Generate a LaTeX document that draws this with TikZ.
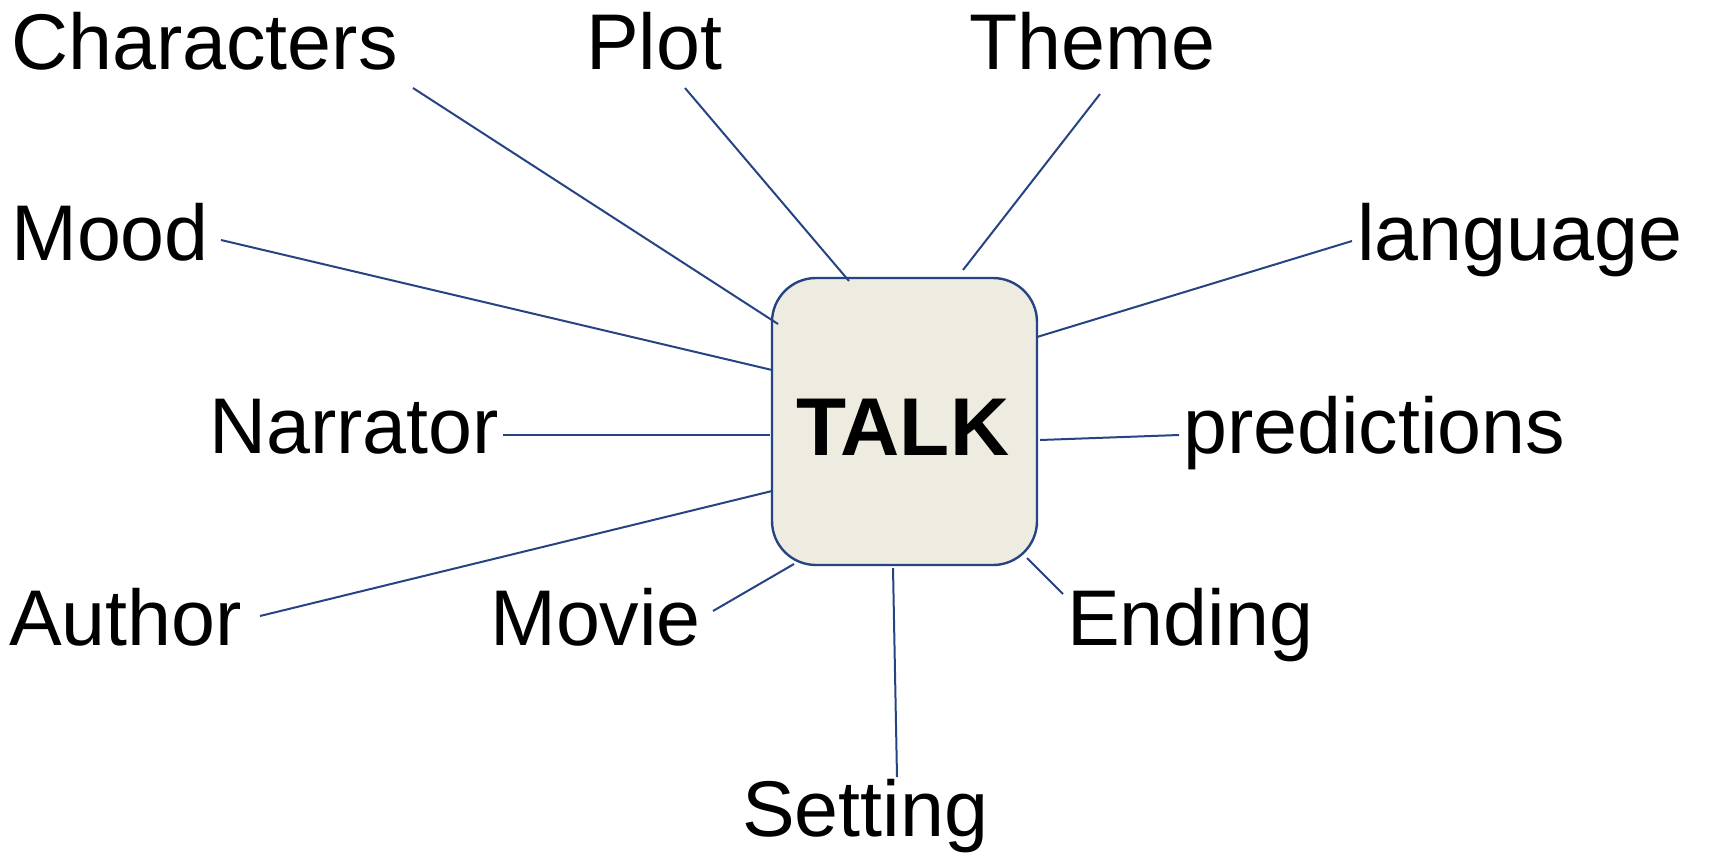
\documentclass[tikz,border=0pt]{standalone}
\usepackage{fontspec}
\setmainfont{Liberation Sans}
\definecolor{linkblue}{RGB}{38,68,130}
\definecolor{boxfill}{RGB}{238,236,225}

\begin{document}
\begin{tikzpicture}[x=1pt, y=-1pt]
    \tikzstyle{every node}=[anchor=base west, inner sep=0pt, font=\fontsize{79}{90}\selectfont];
    \tikzstyle{link}=[draw=linkblue, line width=2pt];
    \useasboundingbox[fill=white] (0,0) rectangle (1715,857);
    % centre box
    \draw[draw=linkblue, line width=2.4pt, fill=boxfill, rounded corners=44pt] (772,278) rectangle (1037,565);
    \node[anchor=base, font=\fontsize{82}{90}\selectfont\bfseries] (T) at (903,455) {TALK};
    % labels
    \node (C) at (11,69) {Characters};
    \node (P) at (586,69) {Plot};
    \node (H) at (969,69) {Theme};
    \node (M) at (11,260) {Mood};
    \node (L) at (1357,260) {language};
    \node (N) at (209,453) {Narrator};
    \node (R) at (1183,453) {predictions};
    \node (A) at (9,645) {Author};
    \node (V) at (490,645) {Movie};
    \node (E) at (1067,645) {Ending};
    \node (S) at (742,836) {Setting};
    % line ends
    \coordinate (c1) at (413,88);  \coordinate (c2) at (778,324);
    \coordinate (p1) at (685,88);  \coordinate (p2) at (849,281);
    \coordinate (h1) at (1100,94); \coordinate (h2) at (963,270);
    \coordinate (m1) at (221,240); \coordinate (m2) at (772,370);
    \coordinate (l1) at (1352,241); \coordinate (l2) at (1037,337);
    \coordinate (n1) at (503,435); \coordinate (n2) at (770,435);
    \coordinate (r1) at (1179,435); \coordinate (r2) at (1040,440);
    \coordinate (a1) at (260,616); \coordinate (a2) at (772,491);
    \coordinate (v1) at (713,611); \coordinate (v2) at (794,564);
    \coordinate (e1) at (1063,594); \coordinate (e2) at (1027,558);
    \coordinate (s1) at (897,777); \coordinate (s2) at (893,568);
    \draw[link] (c1) -- (c2);
    \draw[link] (p1) -- (p2);
    \draw[link] (h1) -- (h2);
    \draw[link] (m1) -- (m2);
    \draw[link] (l1) -- (l2);
    \draw[link] (n1) -- (n2);
    \draw[link] (r1) -- (r2);
    \draw[link] (a1) -- (a2);
    \draw[link] (v1) -- (v2);
    \draw[link] (e1) -- (e2);
    \draw[link] (s1) -- (s2);
\end{tikzpicture}
\end{document}
